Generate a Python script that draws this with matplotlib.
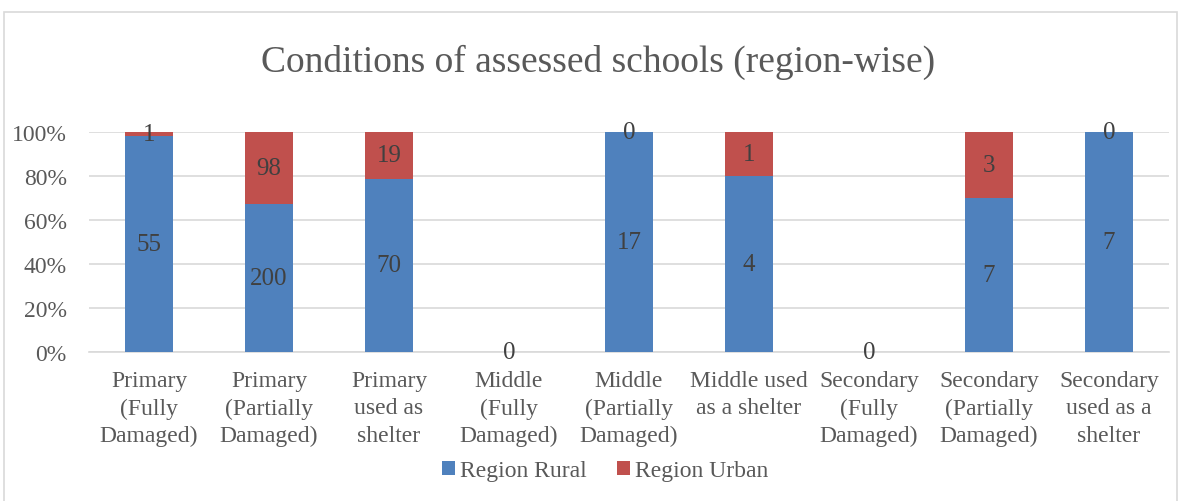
import matplotlib
matplotlib.use("Agg")
import matplotlib.pyplot as plt
import numpy as np
from matplotlib.patches import Rectangle

categories = ["Primary\n(Fully\nDamaged)", "Primary\n(Partially\nDamaged)", "Primary\nused as\nshelter",
              "Middle\n(Fully\nDamaged)", "Middle\n(Partially\nDamaged)", "Middle used\nas a shelter",
              "Secondary\n(Fully\nDamaged)", "Secondary\n(Partially\nDamaged)", "Secondary\nused as a\nshelter"]
rural = [55, 200, 70, 0, 17, 4, 0, 7, 7]
urban = [1, 98, 19, 0, 0, 1, 0, 3, 0]
series_names = ["Region Rural", "Region Urban"]
colors = ["#4f81bd", "#c0504d"]

plt.rcParams['font.family'] = ['Liberation Serif', 'DejaVu Serif']
text_color = "#595959"
label_color = "#404040"

fig = plt.figure(figsize=(11.81, 5.02), dpi=100)
ax = fig.add_axes([89/1181, 1 - 353/502, 1080/1181, 220/502])

r = np.array(rural, dtype=float)
u = np.array(urban, dtype=float)
tot = r + u
safe = np.where(tot > 0, tot, 1)
rp = np.where(tot > 0, r / safe * 100, 0)
up = np.where(tot > 0, u / safe * 100, 0)
x = np.arange(len(categories))
w = 0.4
b1 = ax.bar(x, rp, w, color=colors[0], label=series_names[0], zorder=3)
b2 = ax.bar(x, up, w, bottom=rp, color=colors[1], label=series_names[1], zorder=3)

fs_lab = 18
for i in range(len(x)):
    if tot[i] == 0:
        ax.text(x[i], 0, "0", ha="center", va="center", fontsize=fs_lab, color=label_color, zorder=5)
        continue
    ax.text(x[i], rp[i] / 2, f"{rural[i]}", ha="center", va="center", fontsize=fs_lab, color=label_color, zorder=5)
    ax.text(x[i], rp[i] + up[i] / 2, f"{urban[i]}", ha="center", va="center", fontsize=fs_lab, color=label_color, zorder=5)

ax.set_xlim(-0.5, len(x) - 0.5)
ax.set_ylim(0, 100)
ax.set_yticks(np.arange(0, 101, 20))
ax.set_yticklabels([f"{v}%" for v in range(0, 101, 20)])
ax.set_xticks(x)
ax.set_xticklabels(categories, linespacing=1.4)
ax.tick_params(axis="both", length=0, labelsize=17, labelcolor=text_color)
ax.tick_params(axis="y", pad=16)
ax.tick_params(axis="x", pad=13)
ax.yaxis.grid(True, color="#d9d9d9", linewidth=1.2, zorder=0)
ax.set_axisbelow(True)
for s in ["left", "right", "top"]:
    ax.spines[s].set_visible(False)
ax.spines["bottom"].set_color("#d9d9d9")
ax.spines["bottom"].set_linewidth(1.2)

fig.text(598/1181, 1 - 62/502, "Conditions of assessed schools (region-wise)", ha="center", va="center",
         fontsize=27, color=text_color)

leg = fig.legend(handles=[b1, b2], labels=series_names, loc="center", bbox_to_anchor=(605/1181, 1 - 472/502),
                 ncol=2, frameon=False, fontsize=17, handlelength=0.55, handleheight=0.55, handletextpad=0.2,
                 columnspacing=1.3)
for t in leg.get_texts():
    t.set_color(text_color)

fig.patches.append(Rectangle((4/1181, -0.05), 1173/1181, 1 - 13/502 + 0.05, transform=fig.transFigure,
                             fill=False, edgecolor="#d9d9d9", linewidth=1.2))

fig.savefig("out.png", dpi=100, facecolor="white")
